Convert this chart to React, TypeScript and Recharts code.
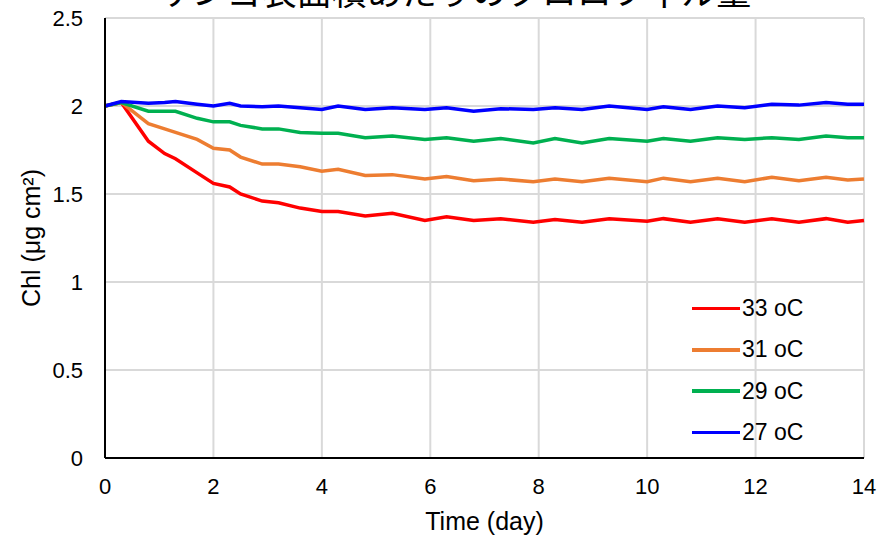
import React from 'react';
import { LineChart, Line, XAxis, YAxis, CartesianGrid } from 'recharts';

const days = [0, 0.3, 0.8, 1.1, 1.3, 1.7, 2.0, 2.3, 2.5, 2.9, 3.2, 3.6, 4.0, 4.3, 4.8, 5.3, 5.9, 6.3, 6.8, 7.3, 7.9, 8.3, 8.8, 9.3, 10.0, 10.3, 10.8, 11.3, 11.8, 12.3, 12.8, 13.3, 13.7, 14.0];
const chl33 = [2.0, 2.02, 1.80, 1.73, 1.70, 1.62, 1.56, 1.54, 1.50, 1.46, 1.45, 1.42, 1.40, 1.40, 1.375, 1.39, 1.35, 1.37, 1.35, 1.36, 1.34, 1.355, 1.34, 1.36, 1.345, 1.36, 1.34, 1.36, 1.34, 1.36, 1.34, 1.36, 1.34, 1.35];
const chl31 = [2.0, 2.02, 1.90, 1.87, 1.85, 1.81, 1.76, 1.75, 1.71, 1.67, 1.67, 1.655, 1.63, 1.64, 1.605, 1.61, 1.585, 1.60, 1.575, 1.585, 1.57, 1.585, 1.57, 1.59, 1.57, 1.59, 1.57, 1.59, 1.57, 1.595, 1.575, 1.595, 1.58, 1.585];
const chl29 = [2.0, 2.02, 1.97, 1.97, 1.97, 1.93, 1.91, 1.91, 1.89, 1.87, 1.87, 1.85, 1.845, 1.845, 1.82, 1.83, 1.81, 1.82, 1.80, 1.815, 1.79, 1.815, 1.79, 1.815, 1.80, 1.815, 1.80, 1.82, 1.81, 1.82, 1.81, 1.83, 1.82, 1.82];
const chl27 = [2.0, 2.025, 2.015, 2.02, 2.025, 2.01, 2.0, 2.015, 2.0, 1.996, 2.0, 1.99, 1.98, 2.0, 1.98, 1.99, 1.98, 1.99, 1.97, 1.985, 1.98, 1.99, 1.98, 2.0, 1.98, 1.995, 1.98, 2.0, 1.99, 2.01, 2.005, 2.02, 2.01, 2.01];

const xTicks = [0, 2, 4, 6, 8, 10, 12, 14];
const yTicks = [0, 0.5, 1, 1.5, 2, 2.5];

const series = [
  { key: 't33', name: '33 oC', color: '#ff0000', values: chl33 },
  { key: 't31', name: '31 oC', color: '#ed7d31', values: chl31 },
  { key: 't29', name: '29 oC', color: '#00b050', values: chl29 },
  { key: 't27', name: '27 oC', color: '#0000ff', values: chl27 },
];

const data = days.map((d, i) => {
  const row: any = { day: d };
  series.forEach(s => { row[s.key] = s.values[i]; });
  return row;
});

const font = '"Liberation Sans", Arial, sans-serif';
const tickStyle = { fill: '#000', fontSize: 22, fontFamily: font };

export default function App() {
  return (
    <div style={{ position: 'absolute', left: 0, top: 0, width: 890, height: 536, background: '#fff' }}>
      <LineChart width={890} height={536} data={data} margin={{ top: 18, right: 26, left: 0, bottom: 0 }}>
        <CartesianGrid stroke="#d9d9d9" strokeWidth={2} />
        <XAxis
          dataKey="day"
          type="number"
          domain={[0, 14]}
          ticks={xTicks}
          height={78}
          tickLine={false}
          tickMargin={14}
          axisLine={{ stroke: '#000', strokeWidth: 2 }}
          tick={tickStyle}
          label={{ value: 'Time (day)', position: 'insideBottom', offset: 6, fill: '#000', fontSize: 25, fontFamily: font }}
        />
        <XAxis xAxisId="top" orientation="top" dataKey="day" type="number" domain={[0, 14]} height={0} tick={false} tickLine={false} axisLine={{ stroke: '#000', strokeWidth: 2 }} />
        <YAxis
          type="number"
          domain={[0, 2.5]}
          ticks={yTicks}
          width={105}
          tickLine={false}
          tickMargin={16}
          axisLine={{ stroke: '#000', strokeWidth: 2 }}
          tick={tickStyle}
          label={{ value: 'Chl (μg cm²)', angle: -90, position: 'insideLeft', offset: 31, style: { textAnchor: 'middle' }, fill: '#000', fontSize: 25, fontFamily: font }}
        />
        <YAxis yAxisId="right" orientation="right" domain={[0, 2.5]} width={0} tick={false} tickLine={false} axisLine={{ stroke: '#000', strokeWidth: 2 }} />
        {series.map(s => (
          <Line
            key={s.key}
            type="linear"
            dataKey={s.key}
            name={s.name}
            stroke={s.color}
            strokeWidth={3.5}
            dot={false}
            isAnimationActive={false}
          />
        ))}
      </LineChart>
      <svg width={890} height={40} style={{ position: 'absolute', left: 0, top: 0 }}>
        <text x={454} y={5} textAnchor="middle" fontSize={35} fontFamily='"Noto Sans CJK JP", sans-serif' fill="#000">
          サンゴ表面積あたりのクロロフィル量
        </text>
      </svg>
      <div style={{ position: 'absolute', left: 692, top: 288, fontFamily: font, fontSize: 23, color: '#000' }}>
        {series.map(s => (
          <div key={s.key} style={{ display: 'flex', alignItems: 'center', height: 41.3 }}>
            <div style={{ width: 48, height: 3.5, background: s.color, marginRight: 2 }} />
            <span>{s.name}</span>
          </div>
        ))}
      </div>
    </div>
  );
}
